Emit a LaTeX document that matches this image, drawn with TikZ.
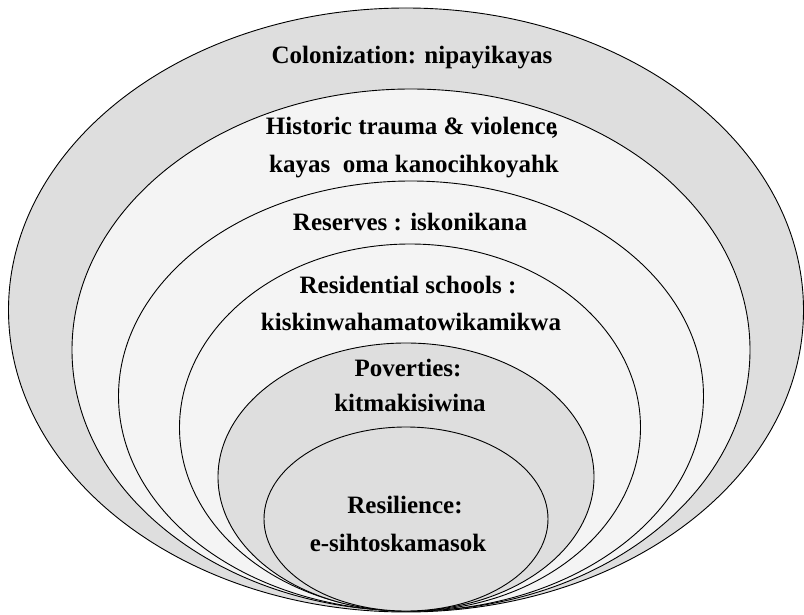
\documentclass[tikz,border=0pt]{standalone}
\usepackage{fontspec}
\setmainfont{Liberation Serif}
\begin{document}
\begin{tikzpicture}[x=1pt,y=-1pt,
  ring/.style={draw=black,line width=0.9pt},
  lbl/.style={font=\fontsize{25}{29}\selectfont\bfseries,text=black,inner sep=0pt,anchor=center}]
\definecolor{darkfill}{HTML}{DEDEDE}
\definecolor{lightfill}{HTML}{F4F4F4}
\useasboundingbox (0,0) rectangle (804,615);
\fill[white] (0,0) rectangle (804,615);
% nested ellipses, all touching at the bottom
\draw[ring,fill=darkfill]  (406,310) ellipse [x radius=397.5, y radius=302];
\draw[ring,fill=lightfill] (411,350) ellipse [x radius=339, y radius=261];
\draw[ring,fill=lightfill] (411,396) ellipse [x radius=292.5, y radius=215];
\draw[ring,fill=lightfill] (410,427.5) ellipse [x radius=230.5, y radius=183.5];
\draw[ring,fill=darkfill]  (406,477) ellipse [x radius=188, y radius=134];
\draw[ring,fill=darkfill]  (406,519) ellipse [x radius=142, y radius=92];
% labels
\node[lbl] (col)  at (412,58)  {Colonization: nipayikayas};
\node[lbl] (hist) at (412,128) {Historic trauma \& violence\kern-0.2em,};
\node[lbl] (kay)  at (414,167) {kayas\ \ oma kanocihkoyahk};
\node[lbl] (res)  at (410,222) {Reserves : iskonikana};
\node[lbl] (rsch) at (408,285) {Residential schools :};
\node[lbl] (kisk) at (411,322) {kiskinwahamatowikamikwa};
\node[lbl] (pov)  at (408,368) {Poverties:};
\node[lbl] (kit)  at (410,403) {kitmakisiwina};
\node[lbl] (resi) at (405,505) {Resilience:};
\node[lbl] (esih) at (398,543) {e-sihtoskamasok};
\end{tikzpicture}
\end{document}
